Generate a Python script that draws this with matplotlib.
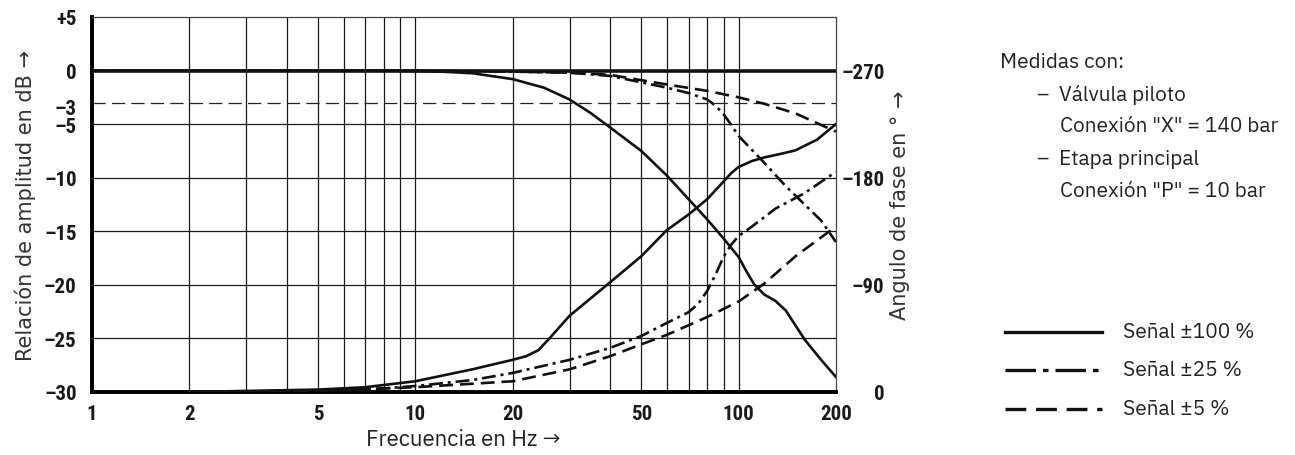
import matplotlib
matplotlib.use("Agg")
import matplotlib.pyplot as plt
import matplotlib.transforms as mtransforms
from matplotlib.lines import Line2D

plt.rcParams['lines.scale_dashes'] = False
plt.rcParams['font.family'] = ['DejaVu Sans']

# --- data (frequency in Hz) ---
amp100_f = [1, 5, 8, 10, 12, 15, 20, 25, 30, 35, 40, 50, 60, 70, 80, 90, 100, 106, 112, 120, 130, 140, 160, 180, 200]
amp100_db = [0, 0, 0, -0.05, -0.1, -0.25, -0.8, -1.6, -2.7, -4.0, -5.3, -7.5, -9.8, -12.0, -13.9, -15.7, -17.4,
             -18.8, -20.0, -20.9, -21.5, -22.4, -25.1, -27.0, -28.6]
ph100_f = [2, 5, 7, 10, 15, 20, 22, 24, 26, 30, 40, 50, 60, 70, 80, 90, 95, 100, 110, 120, 135, 150, 175, 200]
ph100_deg = [0, -2, -4, -9, -19, -27, -30, -35, -45, -64, -92, -114, -136, -149, -162, -177, -184, -189, -194, -197,
             -200, -203, -212, -225]

amp25_f = [1, 10, 20, 30, 40, 50, 60, 70, 80, 85, 90, 95, 100, 120, 140, 160, 180, 200]
amp25_db = [0, 0, -0.1, -0.2, -0.5, -1.1, -1.6, -2.1, -2.7, -3.3, -4.1, -5.1, -6.1, -8.6, -10.8, -12.5, -14.0, -16.0]
ph25_f = [2, 5, 8, 10, 15, 20, 30, 40, 50, 60, 70, 75, 80, 85, 90, 95, 100, 110, 130, 160, 200]
ph25_deg = [0, -1, -3, -5, -10, -16, -27, -37, -47, -58, -67, -74, -85, -99, -114, -124, -131, -139, -154, -167, -185]

amp5_f = [1, 10, 20, 30, 40, 50, 60, 80, 100, 120, 150, 200]
amp5_db = [0, 0, -0.1, -0.2, -0.4, -0.9, -1.3, -1.9, -2.5, -3.1, -4.0, -5.7]
ph5_f = [2, 5, 10, 20, 30, 40, 50, 60, 70, 80, 100, 120, 150, 200]
ph5_deg = [0, -1, -4, -9, -19, -30, -40, -48, -56, -63, -76, -91, -114, -139]

x_ticks = [1, 2, 5, 10, 20, 50, 100, 200]
y_ticks = [5, 0, -3, -5, -10, -15, -20, -25, -30]
y_labels = ['+5', '0', '–3', '–5', '–10', '–15', '–20', '–25', '–30']
ph_ticks = [0, -90, -180, -270]
ph_labels = ['0', '–90', '–180', '–270']

fig = plt.figure(figsize=(12.95, 4.56), dpi=100)
ax = fig.add_axes([0.0710, 0.1382, 0.5745, 0.8224])
ax.set_xscale('log')
ax.set_xlim(1, 200)
ax.set_ylim(-30, 5)

# grid
grid_x = [2, 3, 4, 5, 6, 7, 8, 9, 10, 20, 30, 40, 50, 60, 70, 80, 90, 100]
for gx in grid_x:
    ax.axvline(gx, color='#1a1a1a', lw=0.9, zorder=1)
for gy in [-5, -10, -15, -20, -25]:
    ax.axhline(gy, color='#1a1a1a', lw=0.9, zorder=1)
ax.axhline(0, color='#111111', lw=2.6, zorder=2)
ax.axhline(-3, color='#222222', lw=0.9, dashes=(9.5, 4.5), zorder=1)

dash_dot = (10, 3.5, 2.2, 3.5)
dashed = (10, 5)
lw = 1.9
ax.plot(amp100_f, amp100_db, color='#111111', lw=lw, zorder=3)
ax.plot(amp25_f, amp25_db, color='#111111', lw=lw, dashes=dash_dot, zorder=3)
ax.plot(amp5_f, amp5_db, color='#111111', lw=lw, dashes=dashed, zorder=3)

ax2 = ax.twinx()
ax2.set_ylim(0, -315)
ax2.plot(ph100_f, ph100_deg, color='#111111', lw=lw, zorder=3)
ax2.plot(ph25_f, ph25_deg, color='#111111', lw=lw, dashes=dash_dot, zorder=3)
ax2.plot(ph5_f, ph5_deg, color='#111111', lw=lw, dashes=dashed, zorder=3)

tick_font = dict(family=['Roboto Condensed', 'DejaVu Sans'], weight='bold', size=15)
ax.set_xticks(x_ticks)
ax.set_xticklabels([str(t) for t in x_ticks], fontdict=tick_font)
ax.xaxis.set_minor_locator(matplotlib.ticker.NullLocator())
ax.set_yticks(y_ticks)
ax.set_yticklabels(y_labels, fontdict=tick_font)
ax.tick_params(axis='both', length=0, labelcolor='#1a1a1a')
ax.tick_params(axis='x', pad=9)
ax.tick_params(axis='y', pad=11)
shift_down = mtransforms.ScaledTranslation(0, -3 / 72, fig.dpi_scale_trans)
for lab in ax.get_yticklabels():
    if lab.get_text() == '–3':
        lab.set_transform(lab.get_transform() + shift_down)

ax2.set_yticks(ph_ticks)
ax2.set_yticklabels(ph_labels, fontdict=tick_font)
ax2.tick_params(axis='y', length=0, pad=35, labelcolor='#1a1a1a')
for lab in ax2.get_yticklabels():
    lab.set_ha('right')

for name in ['left', 'bottom']:
    ax.spines[name].set_linewidth(2.6)
    ax2.spines[name].set_linewidth(2.6)
for name in ['top', 'right']:
    ax2.spines[name].set_linewidth(0.9)
    ax2.spines[name].set_color('#444444')
    ax.spines[name].set_visible(False)

ylab_font = dict(family='DejaVu Sans', size=15, color='#333333')
xlab_font = dict(family=['IBM Plex Sans', 'DejaVu Sans'], size=16, color='#222222')
ax.set_xlabel('Frecuencia en Hz →', fontdict=xlab_font, labelpad=3)
ax.set_ylabel('Relación de amplitud en dB →', fontdict=ylab_font, labelpad=6)
ax2.set_ylabel('Angulo de fase en ° →', fontdict=ylab_font, labelpad=4)

# notes on the right
note_font = dict(family=['IBM Plex Sans', 'DejaVu Sans'], size=15, color='#222222', va='center')
fig.text(1000 / 1295, 1 - 62 / 456, 'Medidas con:', **note_font)
fig.text(1037 / 1295, 1 - 95 / 456, '–  Válvula piloto', **note_font)
fig.text(1060 / 1295, 1 - 127 / 456, 'Conexión "X" = 140 bar', **note_font)
fig.text(1037 / 1295, 1 - 160 / 456, '–  Etapa principal', **note_font)
fig.text(1060 / 1295, 1 - 192 / 456, 'Conexión "P" = 10 bar', **note_font)

# legend
legend_items = [('Señal ±100 %', None, 333), ('Señal ±25 %', (22, 5, 4, 5), 371), ('Señal ±5 %', (15, 7), 410)]
for text, dsh, ypx in legend_items:
    y = 1 - ypx / 456
    kw = dict(color='#111111', lw=2.4, transform=fig.transFigure)
    if dsh is not None:
        kw['dashes'] = dsh
    fig.add_artist(Line2D([1005 / 1295, 1102 / 1295], [y, y], **kw))
    fig.text(1123 / 1295, y, text, **note_font)

fig.savefig('out.png', dpi=100)
